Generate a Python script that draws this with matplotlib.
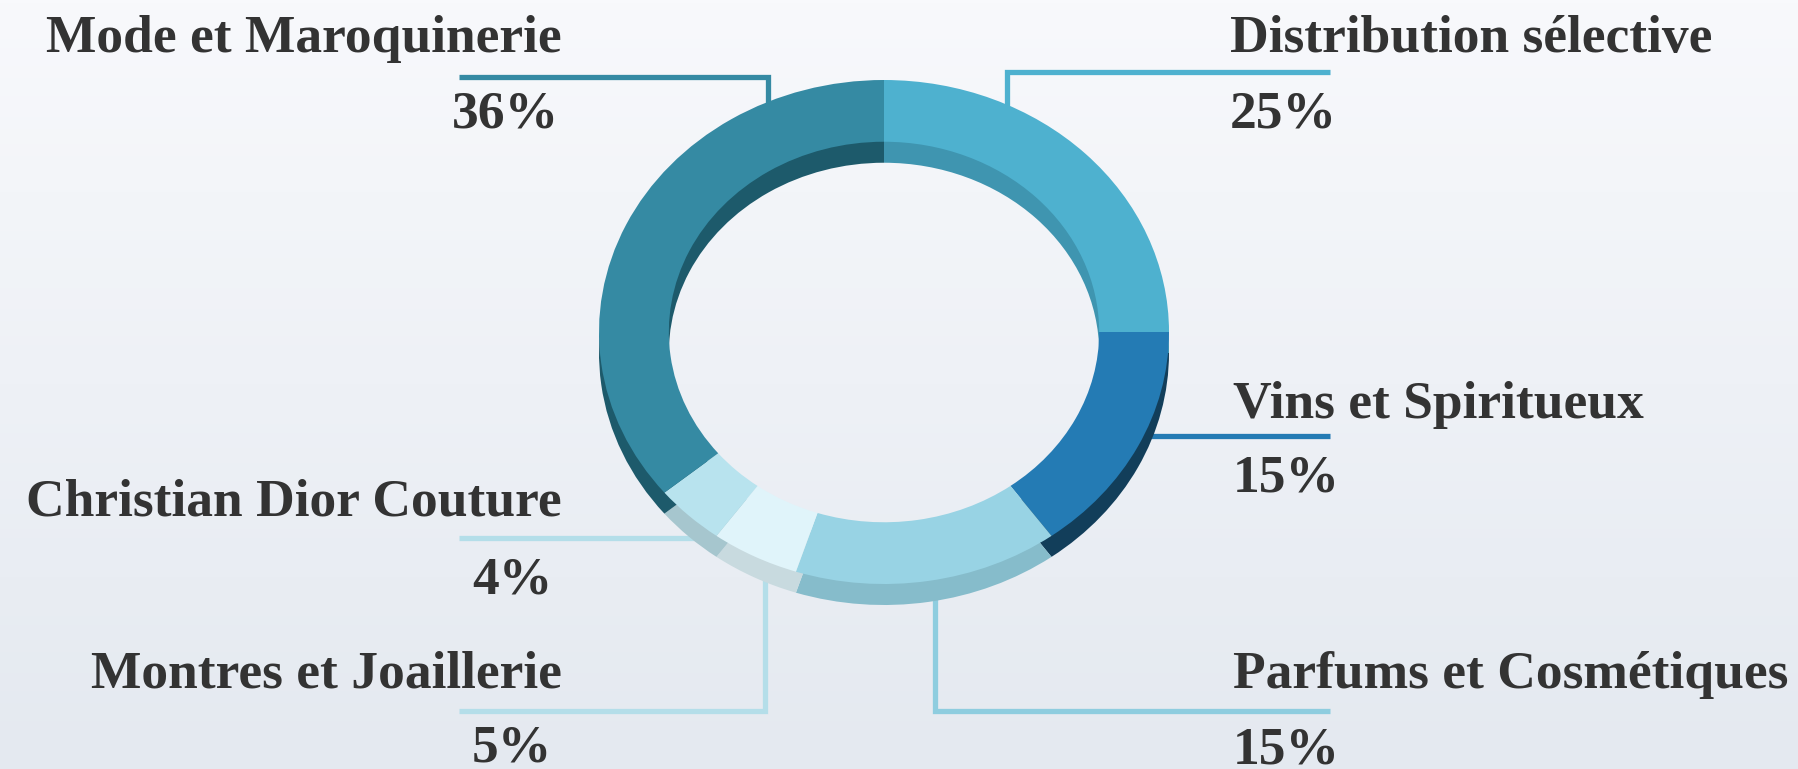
import numpy as np
import matplotlib.pyplot as plt
from matplotlib.colors import LinearSegmentedColormap

# data, clockwise from 12 o'clock
segments = ['Distribution sélective', 'Vins et Spiritueux', 'Parfums et Cosmétiques',
            'Montres et Joaillerie', 'Christian Dior Couture', 'Mode et Maroquinerie']
shares = [25, 15, 15, 5, 4, 36]
pct_labels = ['25%', '15%', '15%', '5%', '4%', '36%']

top_colors = ['#4EB1CF', '#247BB4', '#98D3E4', '#E0F4FA', '#B8E3EE', '#358AA3']
side_colors = ['#3F95B0', '#123E5A', '#86BCCB', '#C8DADF', '#A6C6CE', '#1D5A6B']
line_colors = ['#4EB1CF', '#247BB4', '#8ECDDF', '#B4DEE9', '#B4DEE9', '#358AA3']

# label layout in pixels (x, baseline y, ha) + leader path
layout = [
    ((1230, 52, 'left'), (1230, 128, 'left'), [(1007, 125), (1007, 72), (1330, 72)]),
    ((1233, 418, 'left'), (1233, 491, 'left'), [(1110, 436), (1330, 436)]),
    ((1233, 688, 'left'), (1233, 764, 'left'), [(935, 590), (935, 711), (1330, 711)]),
    ((562, 688, 'right'), (472, 762, 'left'), [(765, 570), (765, 711), (459, 711)]),
    ((562, 516, 'right'), (472, 594, 'left'), [(730, 538), (459, 538)]),
    ((562, 52, 'right'), (559, 128, 'right'), [(768, 125), (768, 77), (459, 77)]),
]

W, H = 1798, 769
fig = plt.figure(figsize=(W / 100, H / 100), dpi=100)

bg = fig.add_axes([0, 0, 1, 1])
grad = np.linspace(0, 1, 256).reshape(-1, 1)
cmap = LinearSegmentedColormap.from_list('bg', ['#F8F9FC', '#E4E9F0'])
bg.imshow(grad, cmap=cmap, aspect='auto', extent=[0, W, H, 0])
bg.set_xlim(0, W)
bg.set_ylim(H, 0)
bg.axis('off')

font = dict(family=['Liberation Serif', 'DejaVu Serif'], fontweight='bold',
            fontsize=38.5, color='#333333')

for i in range(len(segments)):
    (nx, ny, nha), (px, py, pha), path = layout[i]
    xs = [p[0] for p in path]
    ys = [p[1] for p in path]
    bg.plot(xs, ys, color=line_colors[i], lw=3.8, solid_joinstyle='miter',
            solid_capstyle='butt')
    bg.text(nx, ny, segments[i], ha=nha, va='baseline', **font)
    bg.text(px, py, pct_labels[i], ha=pha, va='baseline', **font)

# donut: a darker copy pushed down gives the 3d side
cx, cy, rx, ry, depth = 884, 332, 285, 252, 21


def ring_axes(dy):
    return fig.add_axes([(cx - rx) / W, (H - (cy + dy + ry)) / H, 2 * rx / W, 2 * ry / H])


side = ring_axes(depth)
side.pie(shares, colors=side_colors, startangle=90, counterclock=False,
         wedgeprops=dict(width=0.245, linewidth=0))
top = ring_axes(0)
top.pie(shares, colors=top_colors, startangle=90, counterclock=False,
        wedgeprops=dict(width=0.245, linewidth=0))
for a in (side, top):
    a.set_aspect('auto')
    a.set_xlim(-1, 1)
    a.set_ylim(-1, 1)
    a.axis('off')

fig.savefig('out.png', dpi=100)
